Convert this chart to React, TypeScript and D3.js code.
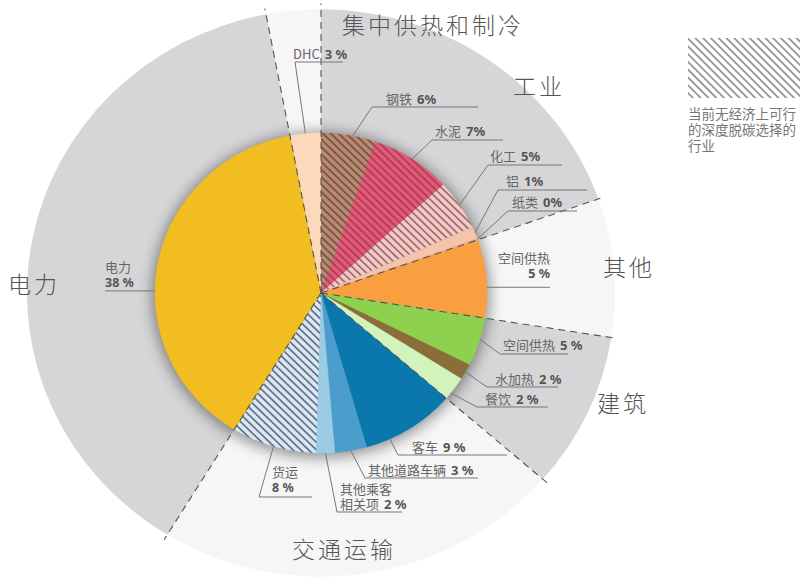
import * as d3 from "d3";

const sliceNames = ["DHC", "钢铁", "水泥", "化工", "铝", "纸类", "空间供热", "空间供热", "水加热", "餐饮", "客车", "其他道路车辆", "其他乘客\n相关项", "货运", "电力"];
const sliceShares = [3.0, 5.3, 7.9, 5.1, 1.2, 0.15, 7.9, 4.9, 1.6, 2.4, 9.2, 3.1, 1.8, 8.3, 38.3];
const slicePct = ["3 %", "6%", "7%", "5%", "1%", "0%", "5 %", "5 %", "2 %", "2 %", "9 %", "3 %", "2 %", "8 %", "38 %"];
const sliceGroup = ["集中供热和制冷", "工业", "工业", "工业", "工业", "工业", "其他", "建筑", "建筑", "建筑", "交通运输", "交通运输", "交通运输", "交通运输", "电力"];
const sliceHatched = [false, true, true, true, false, false, false, false, false, false, false, false, false, true, false];

const groupNames = ["集中供热和制冷", "工业", "其他", "建筑", "交通运输", "电力"];
const groupShaded = [false, true, false, true, false, true];

const legendLines = ["当前无经济上可行", "的深度脱碳选择的", "行业"];

// styles
const sliceColors = ["#fdd9bc", "#b98a72", "#e25a78", "#f6c9c6", "#f4c4ad", "#f2b89a", "#f99f40", "#8ed14f", "#8b6d39", "#d3f3bd", "#0a78ac", "#4b9dcb", "#9ccbe6", "#dbe8f3", "#f2bd20"];
const hatchColors: Record<number, string> = { 1: "#6e4c3d", 2: "#a8384f", 3: "#8f6464", 13: "#55667e" };

const W = 804, H = 578;
const cx = 321, cy = 293, R = 166, R_OUT = 294, SY = 0.965;
const FONT = "'Noto Sans CJK SC', 'Noto Sans', sans-serif";
const PCT_FONT = "'Noto Sans', sans-serif";

// leader line layout: at = position along the slice, elbow, end x, text pos
type Lay = { at: number; elbow: [number, number] | null; end: number; tx: number; ty: number; anchor?: "start" | "end"; stack?: boolean };
const layout: Lay[] = [
  { at: 0.5, elbow: [295, 62], end: 343, tx: 293, ty: 59 },
  { at: 0.58, elbow: [372, 107], end: 478, tx: 386, ty: 104 },
  { at: 0.5, elbow: [432, 140], end: 503, tx: 435, ty: 136 },
  { at: 0.5, elbow: [488, 165], end: 562, tx: 490, ty: 161 },
  { at: 0.5, elbow: [498, 190], end: 587, tx: 506, ty: 186 },
  { at: 0.5, elbow: [508, 211], end: 577, tx: 512, ty: 207 },
  { at: 0.61, elbow: null, end: 550, tx: 550, ty: 263, anchor: "end", stack: true },
  { at: 0.44, elbow: [500, 354], end: 568, tx: 503, ty: 350 },
  { at: 0.5, elbow: [487, 387], end: 558, tx: 495, ty: 384 },
  { at: 0.72, elbow: [477, 407], end: 548, tx: 485, ty: 404 },
  { at: 0.74, elbow: [398, 455], end: 507, tx: 412, ty: 452 },
  { at: 0.5, elbow: [365, 478], end: 478, tx: 368, ty: 475 },
  { at: 0.5, elbow: [337, 512], end: 402, tx: 340, ty: 494 },
  { at: 0.5, elbow: [259, 497], end: 312, tx: 272, ty: 477, stack: true },
  { at: 0.43, elbow: null, end: 105, tx: 105, ty: 272, stack: true },
];

const groupLabelPos: [number, number][] = [
  [342, 34], [513, 95], [603, 276], [597, 412], [292, 558], [8, 293],
];

const total = d3.sum(sliceShares);
const start = -(sliceShares[0] / total) * 2 * Math.PI;
const pie = d3.pie<number>().sort(null).value((d) => d).startAngle(start).endAngle(start + 2 * Math.PI);
const arcs = pie(sliceShares);
const arc = d3.arc<d3.PieArcDatum<number>>().innerRadius(0).outerRadius(R);

// outer sectors from consecutive slices of the same group
const groups = groupNames.map((g, gi) => {
  const parts = arcs.filter((_, i) => sliceGroup[i] === g);
  return { name: g, shaded: groupShaded[gi], startAngle: parts[0].startAngle, endAngle: parts[parts.length - 1].endAngle };
});
const outerArc = d3.arc<{ startAngle: number; endAngle: number }>().innerRadius(0).outerRadius(R_OUT);

const pt = (a: number, r: number): [number, number] => [cx + r * Math.sin(a), cy - r * SY * Math.cos(a)];

export default function App() {
  return (
    <svg width={W} height={H} style={{ position: "absolute", left: 0, top: 0, background: "#fff" }} fontFamily={FONT}>
      <defs>
        {Object.entries(hatchColors).map(([k, c]) => (
          <pattern key={k} id={`h${k}`} width={5.5} height={5.5} patternUnits="userSpaceOnUse" patternTransform="rotate(-45)">
            <rect width={5.5} height={5.5} fill={sliceColors[+k]} />
            <line x1={2.75} y1={0} x2={2.75} y2={5.5} stroke={c} strokeWidth={1.6} />
          </pattern>
        ))}
        <pattern id="hLegend" width={5.5} height={5.5} patternUnits="userSpaceOnUse" patternTransform="rotate(-45)">
          <rect width={5.5} height={5.5} fill="#fff" />
          <line x1={2.75} y1={0} x2={2.75} y2={5.5} stroke="#777" strokeWidth={1.4} />
        </pattern>
        <filter id="sh" x="-30%" y="-30%" width="160%" height="160%">
          <feGaussianBlur stdDeviation={7} />
        </filter>
      </defs>

      <g transform={`translate(${cx},${cy}) scale(1,${SY})`}>
        {groups.map((g) => (
          <path key={g.name} d={outerArc(g) || ""} fill={g.shaded ? "#d6d6d8" : "#f6f6f6"} />
        ))}
        <circle r={R + 3} cy={2} fill="#000" opacity={0.4} filter="url(#sh)" />
        {arcs.map((a, i) => (
          <path key={i} d={arc(a) || ""} fill={sliceHatched[i] ? `url(#h${i})` : sliceColors[i]} stroke={sliceHatched[i] ? "none" : sliceColors[i]} strokeWidth={0.5} />
        ))}
      </g>

      {/* dashed sector borders */}
      {groups.map((g) => {
        const [x2, y2] = pt(g.startAngle, R_OUT + 6);
        return <line key={g.name} x1={cx} y1={cy} x2={x2} y2={y2} stroke="#555" strokeWidth={1.1} strokeDasharray="7 5" />;
      })}

      {/* leader lines and labels */}
      {arcs.map((a, i) => {
        const L = layout[i];
        const ang = a.startAngle + (a.endAngle - a.startAngle) * L.at;
        const [sx, sy] = pt(ang, R);
        const d = L.elbow
          ? `M${sx},${sy}L${L.elbow[0]},${L.elbow[1]}L${L.end},${L.elbow[1]}`
          : `M${sx},${sy}L${L.end},${sy}`;
        const nameLines = sliceNames[i].split("\n");
        const anchor = L.anchor || "start";
        return (
          <g key={i}>
            <path d={d} fill="none" stroke="#777" strokeWidth={1} />
            {nameLines.map((n, j) => {
              const last = j === nameLines.length - 1;
              return (
                <text key={j} x={L.tx} y={L.ty + j * 15} fontSize={13} textAnchor={anchor}>
                  <tspan fill="#666">{n}</tspan>
                  {last && !L.stack && (
                    <tspan dx={5} fill="#555" fontWeight={700} fontFamily={PCT_FONT}>{slicePct[i]}</tspan>
                  )}
                </text>
              );
            })}
            {L.stack && (
              <text x={L.tx} y={L.ty + 15} fontSize={12.5} textAnchor={anchor} fill="#555" fontWeight={700} fontFamily={PCT_FONT}>
                {slicePct[i]}
              </text>
            )}
          </g>
        );
      })}

      {/* sector titles */}
      {groupNames.map((g, i) => (
        <text key={g} x={groupLabelPos[i][0]} y={groupLabelPos[i][1]} fontSize={23} fill="#555" letterSpacing={3} fontWeight={300}>
          {g}
        </text>
      ))}

      {/* legend */}
      <rect x={688} y={38} width={112} height={60} fill="url(#hLegend)" />
      {legendLines.map((t, i) => (
        <text key={i} x={688} y={119 + i * 16} fontSize={13.5} fill="#777">
          {t}
        </text>
      ))}
    </svg>
  );
}
